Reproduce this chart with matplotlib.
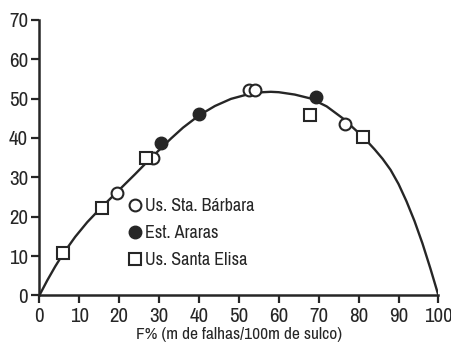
import matplotlib
matplotlib.use("Agg")
import matplotlib.pyplot as plt
from matplotlib import font_manager

# narrow face for all text: a *Narrow/*Condensed family if present, else a condensed stretch
fonts = font_manager.fontManager.ttflist
narrow = sorted({f.name for f in fonts if "Narrow" in f.name or "Condensed" in f.name})
if narrow:
    plt.rcParams["font.family"] = [narrow[0], "DejaVu Sans"]
else:
    plt.rcParams["font.family"] = ["DejaVu Sans"]
    plt.rcParams["font.stretch"] = "condensed"

ink = "#262626"

# fitted curve, read along its length
curve_x = [0, 2, 4, 6, 9, 12, 15, 18, 21, 24, 27, 30, 33, 36, 40, 44, 48, 52, 56, 58,
           60, 64, 68, 72, 76, 80, 82, 84, 86, 88, 90, 92, 94, 96, 98, 100]
curve_y = [0, 3.85, 7.4, 10.65, 14.9, 18.6, 21.8, 24.8, 27.8, 30.8, 33.9, 36.9, 39.85, 42.6, 45.7,
           48.1, 49.9, 51.0, 51.6, 51.7, 51.6, 51.0, 50.0, 48.0, 45.0, 41.3, 39.3, 37.1, 34.7, 31.9,
           28.3, 23.9, 18.9, 13.2, 6.8, 0]

# Us. Sta. Barbara
barbara_x = [19.4, 28.4, 52.6, 54.1, 76.6]
barbara_y = [25.9, 34.9, 52.2, 52.2, 43.5]
# Est. Araras
araras_x = [30.4, 40.1, 69.3]
araras_y = [38.6, 46.1, 50.3]
# Us. Santa Elisa
elisa_x = [5.9, 15.6, 26.7, 67.8, 81.0]
elisa_y = [10.7, 22.1, 35.0, 45.7, 40.2]

x_ticks = [0, 10, 20, 30, 40, 50, 60, 70, 80, 90, 100]
y_ticks = [0, 10, 20, 30, 40, 50, 60, 70]

fig = plt.figure(figsize=(4.52, 3.46), dpi=100)
ax = fig.add_axes([0.087, 0.146, 0.883, 0.797])

ax.plot(curve_x, curve_y, color=ink, lw=1.7, zorder=2)

ms = 8.5
ax.plot(barbara_x, barbara_y, "o", ms=ms, mfc="white", mec=ink, mew=1.5, ls="none",
        label="Us. Sta. Bárbara", zorder=3)
ax.plot(araras_x, araras_y, "o", ms=ms + 0.5, mfc=ink, mec=ink, mew=1.0, ls="none",
        label="Est. Araras", zorder=3)
ax.plot(elisa_x, elisa_y, "s", ms=ms, mfc="white", mec=ink, mew=1.5, ls="none",
        label="Us. Santa Elisa", zorder=3)

ax.set_xlim(0, 100)
ax.set_ylim(0, 70)
ax.set_xticks(x_ticks)
ax.set_yticks(y_ticks)
ax.spines["top"].set_visible(False)
ax.spines["right"].set_visible(False)
for s in ("left", "bottom"):
    ax.spines[s].set_color(ink)
    ax.spines[s].set_linewidth(1.8)
ax.tick_params(colors=ink, width=1.6, length=6, labelsize=15, pad=2)
for lab in ax.get_xticklabels() + ax.get_yticklabels():
    lab.set_color(ink)

ax.set_xlabel("F% (m de falhas/100m de sulco)", fontsize=12.5, color=ink, labelpad=1)

leg = ax.legend(loc="upper left", bbox_to_anchor=(0.207, 0.38), frameon=False, fontsize=13,
                handlelength=0.6, handletextpad=0.25, labelspacing=0.62, borderaxespad=0,
                labelcolor=ink)

fig.savefig("out.png", dpi=100)
